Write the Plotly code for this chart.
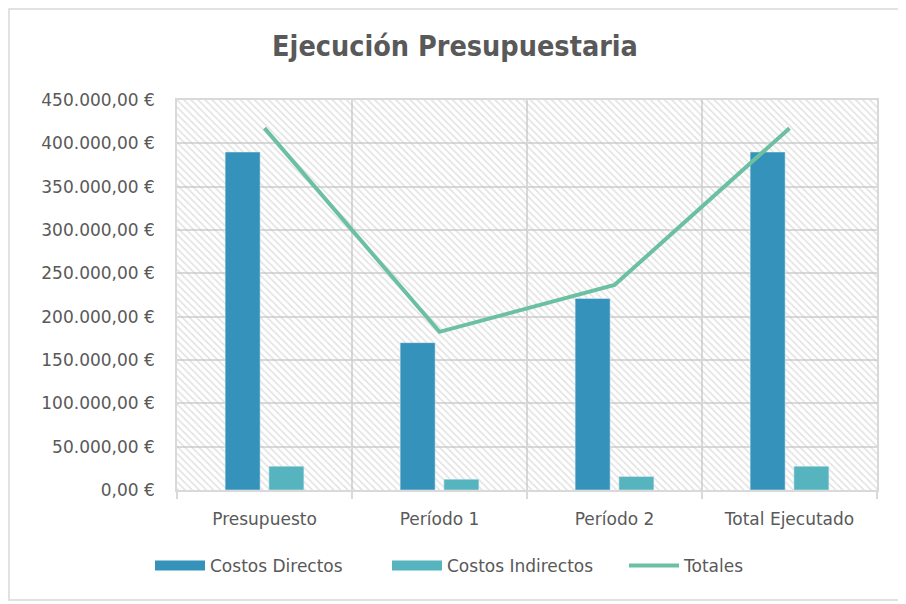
import plotly.graph_objects as go

categories = ["Presupuesto", "Período 1", "Período 2", "Total Ejecutado"]
costos_directos = [390000, 170000, 221000, 390000]
costos_indirectos = [27500, 12500, 15500, 27500]
totales = [a + b for a, b in zip(costos_directos, costos_indirectos)]
y_ticks = [0, 50000, 100000, 150000, 200000, 250000, 300000, 350000, 400000, 450000]
y_tick_labels = ["0,00 €", "50.000,00 €", "100.000,00 €", "150.000,00 €", "200.000,00 €",
                 "250.000,00 €", "300.000,00 €", "350.000,00 €", "400.000,00 €", "450.000,00 €"]

C_DIR = "#3592BA"
C_IND = "#55B4BE"
C_TOT = "#6CC0A2"
GRID = "#D9D9D9"
TXT = "#595959"
FONT = "DejaVu Sans, Open Sans, sans-serif"

fig = go.Figure()

# background hatching (base subplot, transparent bars with pattern)
fig.add_trace(go.Bar(
    x=[0.5], y=[1], width=[1], base=[0], xaxis="x", yaxis="y",
    marker=dict(color="rgba(0,0,0,0)", line=dict(width=0),
                pattern=dict(shape="\\", fgcolor="#C4C4C4", size=5, solidity=0.3)),
    showlegend=False, hoverinfo="skip"))

fig.add_trace(go.Bar(x=categories, y=costos_directos, name="Costos Directos",
                     marker=dict(color=C_DIR), xaxis="x2", yaxis="y2", showlegend=False))
fig.add_trace(go.Bar(x=categories, y=costos_indirectos, name="Costos Indirectos",
                     marker=dict(color=C_IND), xaxis="x2", yaxis="y2", showlegend=False))
fig.add_trace(go.Scatter(x=categories, y=totales, name="Totales", mode="lines",
                         line=dict(color=C_TOT, width=4), xaxis="x2", yaxis="y2",
                         showlegend=False))

# legend entries
for nm, col, w in [("Costos Directos", C_DIR, 10), ("Costos Indirectos", C_IND, 10), ("Totales", C_TOT, 4)]:
    fig.add_trace(go.Scatter(x=[None], y=[None], mode="lines", name=nm,
                             line=dict(color=col, width=w), xaxis="x2", yaxis="y2"))

# page has an 8px body margin: figure coordinates = screenshot - 8
W, H = 898, 596
L, T = 169, 92
R = W - 869
B = H - 482
pw, ph = W - L - R, H - T - B

fig.update_layout(
    width=W, height=H,
    margin=dict(l=L, r=R, t=T, b=B),
    paper_bgcolor="white", plot_bgcolor="white",
    font=dict(family=FONT, color=TXT, size=17),
    title=dict(text="<b>Ejecución Presupuestaria</b>", x=447 / W, xanchor="center",
               y=1 - 38 / H, yanchor="middle",
               font=dict(family="DejaVu Sans Condensed, DejaVu Sans, sans-serif", size=28.5, color=TXT)),
    barmode="group", bargap=0.5, bargroupgap=0.2,
    xaxis=dict(range=[0, 1], visible=False, fixedrange=True),
    yaxis=dict(range=[0, 1], visible=False, fixedrange=True),
    xaxis2=dict(overlaying="x", anchor="y2", type="category",
                tickson="boundaries", showgrid=True, gridcolor=GRID, gridwidth=1.5,
                showline=True, linecolor=GRID, linewidth=1.5, mirror=True,
                ticks="outside", ticklen=7, tickcolor=GRID, tickwidth=1.5,
                ticklabelstandoff=13,
                tickfont=dict(size=17, color=TXT), range=[-0.5, 3.5]),
    yaxis2=dict(overlaying="y", anchor="x2", range=[0, 450000],
                tickvals=y_ticks, ticktext=y_tick_labels,
                showgrid=True, gridcolor=GRID, gridwidth=1.5,
                showline=True, linecolor=GRID, linewidth=1.5, mirror=True,
                zeroline=False, ticks="", ticklabelstandoff=17,
                tickfont=dict(size=17, color=TXT)),
    legend=dict(orientation="h", x=(142 - L) / pw, xanchor="left",
                y=-(558 - 482) / ph, yanchor="middle",
                entrywidth=172, entrywidthmode="pixels",
                font=dict(size=17, color=TXT), itemwidth=50,
                bgcolor="rgba(0,0,0,0)"),
    shapes=[dict(type="rect", xref="paper", yref="paper",
                 x0=(1 - L) / pw, x1=(895 - L) / pw,
                 y0=(482 - 592) / ph, y1=(482 - 1) / ph,
                 line=dict(color=GRID, width=1.5), fillcolor="rgba(0,0,0,0)", layer="below")],
)

fig.write_html("out.html")
